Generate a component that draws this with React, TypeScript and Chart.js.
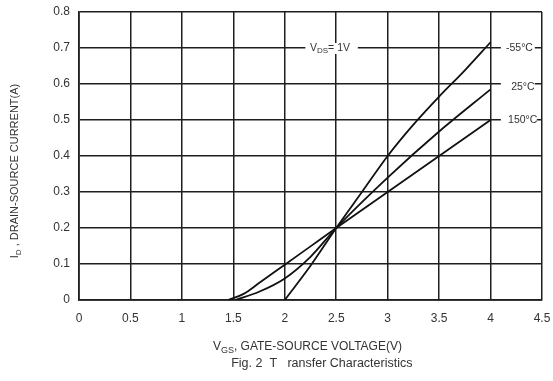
import React, { useEffect, useRef } from "react";
import { Chart, registerables } from "chart.js";

Chart.register(...registerables);

// Data (VGS in V, ID in A)
const vgsM55 = [2.0, 2.25, 2.5, 2.75, 3.0, 3.25, 3.5, 3.75, 4.0];
const idM55 = [0, 0.095, 0.2, 0.3, 0.4, 0.487, 0.565, 0.638, 0.716];

const vgs25 = [1.52, 1.75, 2.0, 2.25, 2.5, 3.0, 3.5, 4.0];
const id25 = [0, 0.023, 0.06, 0.12, 0.2, 0.34, 0.468, 0.585];

const vgs150 = [1.45, 1.6, 1.75, 2.0, 2.25, 2.5, 3.0, 3.5, 4.0];
const id150 = [0, 0.017, 0.047, 0.098, 0.149, 0.2, 0.3, 0.4, 0.5];

const seriesLabels = ["-55°C", "25°C", "150°C"];
const condLabel = { main: "V", sub: "DS", rest: "= 1V" };
const xTitle = { main: "V", sub: "GS", rest: ", GATE-SOURCE VOLTAGE(V)" };
const yTitle = { main: "I", sub: "D", rest: " , DRAIN-SOURCE CURRENT(A)" };
const caption = "Fig. 2  T   ransfer Characteristics";

const FONT = "'Liberation Sans', Arial, sans-serif";
const TEXT = "#333333";
const LINE = "#1e1e1e";

function toPts(xs: number[], ys: number[]) {
  return xs.map((x, i) => ({ x, y: ys[i] }));
}

function richWidth(ctx: CanvasRenderingContext2D, t: { main: string; sub: string; rest: string }, f: number) {
  ctx.font = `${f}px ${FONT}`;
  const a = ctx.measureText(t.main).width;
  const c = ctx.measureText(t.rest).width;
  ctx.font = `${Math.round(f * 0.75)}px ${FONT}`;
  const b = ctx.measureText(t.sub).width;
  return a + b + c;
}

function drawRich(ctx: CanvasRenderingContext2D, t: { main: string; sub: string; rest: string }, x: number, y: number, f: number) {
  ctx.textBaseline = "middle";
  ctx.textAlign = "left";
  ctx.font = `${f}px ${FONT}`;
  ctx.fillText(t.main, x, y);
  let cx = x + ctx.measureText(t.main).width;
  const fs = Math.round(f * 0.75);
  ctx.font = `${fs}px ${FONT}`;
  ctx.fillText(t.sub, cx, y + f * 0.3);
  cx += ctx.measureText(t.sub).width;
  ctx.font = `${f}px ${FONT}`;
  ctx.fillText(t.rest, cx, y);
}

const annotPlugin = {
  id: "annot",
  afterDatasetsDraw(chart: any) {
    const { ctx, scales } = chart;
    const xs = scales.x;
    const ys = scales.y;
    ctx.save();
    ctx.fillStyle = TEXT;

    // condition label with white background
    {
      const x0 = xs.getPixelForValue(2.2);
      const x1 = xs.getPixelForValue(2.71);
      const yc = ys.getPixelForValue(0.7);
      ctx.fillStyle = "#ffffff";
      ctx.fillRect(x0, yc - 5, x1 - x0, 11);
      ctx.fillStyle = TEXT;
      drawRich(ctx, condLabel, xs.getPixelForValue(2.245), yc, 10.5);
    }

    // series labels at right
    const pos = [
      { x: 4.15, y: 0.7, bx0: 4.1, bx1: 4.43 },
      { x: 4.2, y: 0.59, bx0: 4.1, bx1: 4.43 },
      { x: 4.17, y: 0.5, bx0: 4.1, bx1: 4.45 },
    ];
    seriesLabels.forEach((lab, i) => {
      const p = pos[i];
      const yc = ys.getPixelForValue(p.y);
      const bx0 = xs.getPixelForValue(p.bx0);
      const bx1 = xs.getPixelForValue(p.bx1);
      ctx.fillStyle = "#ffffff";
      ctx.fillRect(bx0, yc - 6, bx1 - bx0, 12);
      ctx.fillStyle = TEXT;
      ctx.font = `10.5px ${FONT}`;
      ctx.textAlign = "left";
      ctx.textBaseline = "middle";
      ctx.fillText(lab, xs.getPixelForValue(p.x), yc);
    });

    // x title
    ctx.fillStyle = TEXT;
    drawRich(ctx, xTitle, xs.getPixelForValue(2.22) - richWidth(ctx, xTitle, 12) / 2, ys.bottom + 47, 12);

    // caption
    ctx.font = `12.5px ${FONT}`;
    ctx.textAlign = "center";
    ctx.textBaseline = "middle";
    ctx.fillText(caption, xs.getPixelForValue(2.36), ys.bottom + 64);

    // y title
    ctx.translate(15, (ys.top + ys.bottom) / 2 + 15);
    ctx.rotate(-Math.PI / 2);
    const wy = richWidth(ctx, yTitle, 11);
    drawRich(ctx, yTitle, -wy / 2, 0, 11);

    ctx.restore();
  },
};

export default function App() {
  const ref = useRef<HTMLCanvasElement | null>(null);

  useEffect(() => {
    if (!ref.current) return;
    const lineDs = (data: { x: number; y: number }[], label: string) => ({
      label,
      data,
      borderColor: "#111111",
      borderWidth: 1.8,
      pointRadius: 0,
      fill: false,
      cubicInterpolationMode: "monotone" as const,
    });
    const chart = new Chart(ref.current, {
      type: "line",
      data: {
        datasets: [
          lineDs(toPts(vgsM55, idM55), seriesLabels[0]),
          lineDs(toPts(vgs25, id25), seriesLabels[1]),
          lineDs(toPts(vgs150, id150), seriesLabels[2]),
        ],
      },
      options: {
        responsive: false,
        animation: false,
        layout: { padding: { left: 0, right: 11, top: 12, bottom: 0 } },
        plugins: {
          legend: { display: false },
          tooltip: { enabled: false },
          title: { display: false },
        },
        scales: {
          x: {
            type: "linear",
            min: 0,
            max: 4.5,
            ticks: {
              stepSize: 0.5,
              color: TEXT,
              font: { size: 12, family: FONT },
              padding: 11,
              maxRotation: 0,
              callback: (v: any) => String(Math.round(Number(v) * 10) / 10),
            },
            grid: { color: LINE, lineWidth: 1.5, drawTicks: false },
            border: { display: true, color: LINE, width: 1.7 },
            afterFit: (s: any) => {
              s.height = 81;
              s.paddingLeft = 0;
              s.paddingRight = 0;
            },
          },
          y: {
            type: "linear",
            min: 0,
            max: 0.8,
            ticks: {
              stepSize: 0.1,
              color: TEXT,
              font: { size: 12, family: FONT },
              padding: 9,
              callback: (v: any) => String(Math.round(Number(v) * 10) / 10),
            },
            grid: { color: LINE, lineWidth: 1.5, drawTicks: false },
            border: { display: true, color: LINE, width: 1.7 },
            afterFit: (s: any) => {
              s.width = 79;
              s.paddingTop = 0;
              s.paddingBottom = 0;
            },
          },
        },
      },
      plugins: [annotPlugin],
    });
    return () => chart.destroy();
  }, []);

  return (
    <div style={{ position: "fixed", left: 0, top: 0, width: 553, height: 381, background: "#ffffff" }}>
      <canvas ref={ref} width={553} height={381} style={{ display: "block" }} />
    </div>
  );
}
